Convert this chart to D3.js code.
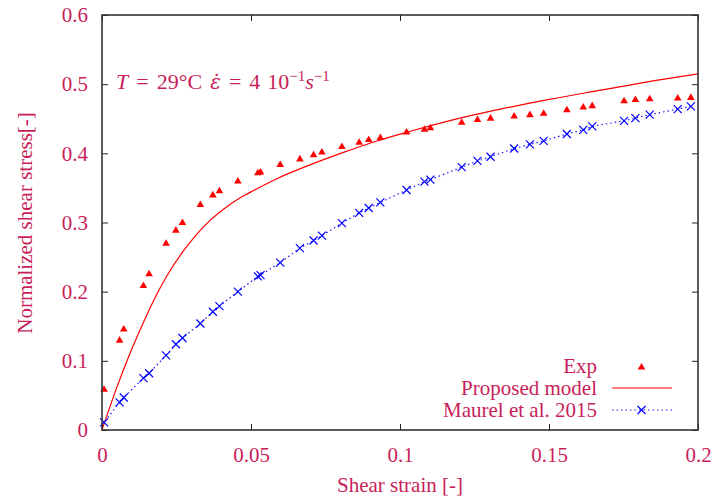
<!DOCTYPE html>
<html>
<head>
<meta charset="utf-8">
<script src="https://cdn.jsdelivr.net/npm/d3@7"></script>
<style>
  body { margin: 0; background: #fff; }
  svg text { font-family: "Liberation Serif", "DejaVu Serif", serif; }
</style>
</head>
<body>
<div id="chart"></div>
<script>
// experimental points (strain, normalized stress)
const expStrain = [0.0007, 0.0059, 0.0073, 0.0139, 0.0158, 0.0215, 0.0248, 0.0270, 0.0330, 0.0372,
  0.0394, 0.0456, 0.0523, 0.0532, 0.0598, 0.0664, 0.0710, 0.0738, 0.0805, 0.0863,
  0.0895, 0.0934, 0.1022, 0.1082, 0.1102, 0.1207, 0.1260, 0.1304, 0.1383, 0.1436,
  0.1482, 0.1560, 0.1615, 0.1645, 0.1752, 0.1790, 0.1838, 0.1932, 0.1976];
const expStress = [0.059, 0.130, 0.146, 0.209, 0.226, 0.270, 0.289, 0.300, 0.326, 0.340,
  0.346, 0.360, 0.372, 0.373, 0.384, 0.392, 0.398, 0.402, 0.410, 0.416,
  0.420, 0.423, 0.431, 0.435, 0.437, 0.445, 0.449, 0.451, 0.454, 0.456,
  0.458, 0.463, 0.467, 0.469, 0.476, 0.478, 0.479, 0.480, 0.481];

// Maurel et al. 2015, same strains as exp
const maurelStress = [0.011, 0.040, 0.047, 0.075, 0.082, 0.108, 0.124, 0.133, 0.154, 0.171,
  0.179, 0.200, 0.222, 0.224, 0.242, 0.263, 0.274, 0.281, 0.299, 0.314,
  0.321, 0.329, 0.347, 0.359, 0.362, 0.380, 0.389, 0.395, 0.407, 0.413,
  0.418, 0.428, 0.434, 0.439, 0.447, 0.451, 0.456, 0.464, 0.468];

// proposed model curve
const modelStrain = [0, 0.005, 0.010, 0.015, 0.0186, 0.0225, 0.0277, 0.032, 0.036, 0.041,
  0.0461, 0.0512, 0.0585, 0.0696, 0.0808, 0.092, 0.1032, 0.1222, 0.1334, 0.1501,
  0.1664, 0.1854, 0.2];
const modelStress = [0, 0.062, 0.117, 0.166, 0.198, 0.228, 0.261, 0.284, 0.302, 0.320,
  0.335, 0.347, 0.363, 0.383, 0.401, 0.4175, 0.4315, 0.453, 0.4636, 0.478,
  0.4906, 0.505, 0.515];

const xTicks = [0, 0.05, 0.1, 0.15, 0.2];
const yTicks = [0, 0.1, 0.2, 0.3, 0.4, 0.5, 0.6];
const legendLabels = ['Exp', 'Proposed model', 'Maurel et al. 2015'];

const W = 715, H = 501;
const margin = {top: 15, right: 17, bottom: 71, left: 102};
const iw = W - margin.left - margin.right;
const ih = H - margin.top - margin.bottom;
const txtColor = '#c81e5a';
const fs = 21;

const svg = d3.select('#chart').append('svg').attr('width', W).attr('height', H);
const g = svg.append('g').attr('transform', 'translate(' + margin.left + ',' + margin.top + ')');

const x = d3.scaleLinear().domain([0, 0.2]).range([0, iw]);
const y = d3.scaleLinear().domain([0, 0.6]).range([ih, 0]);
const fmt = d3.format('~g');

function styleAxis(sel) {
  sel.select('.domain').remove();
  sel.selectAll('line').attr('stroke', '#222').attr('stroke-width', 1);
  sel.selectAll('text').attr('fill', txtColor).style('font-size', fs + 'px');
}

g.append('g').attr('transform', 'translate(0,' + ih + ')')
  .call(d3.axisBottom(x).tickValues(xTicks).tickFormat(fmt).tickSize(-6).tickPadding(17))
  .call(styleAxis);
g.append('g')
  .call(d3.axisTop(x).tickValues(xTicks).tickFormat('').tickSize(-6))
  .call(styleAxis);
g.append('g')
  .call(d3.axisLeft(y).tickValues(yTicks).tickFormat(fmt).tickSize(-6).tickPadding(14))
  .call(styleAxis);
g.append('g').attr('transform', 'translate(' + iw + ',0)')
  .call(d3.axisRight(y).tickValues(yTicks).tickFormat('').tickSize(-6))
  .call(styleAxis);

// model curve
const modelPts = d3.zip(modelStrain, modelStress);
g.append('path')
  .attr('d', d3.line().curve(d3.curveMonotoneX).x(d => x(d[0])).y(d => y(d[1]))(modelPts))
  .attr('fill', 'none').attr('stroke', '#ff0000').attr('stroke-width', 1.2);

// Maurel dotted line + crosses
const maurelPts = d3.zip(expStrain, maurelStress);
g.append('path')
  .attr('d', d3.line().x(d => x(d[0])).y(d => y(d[1]))([[0, 0.008]].concat(maurelPts)))
  .attr('fill', 'none').attr('stroke', '#1a1aff').attr('stroke-width', 1.2)
  .attr('stroke-dasharray', '1.5,3');

function cross(sel, s) {
  sel.append('path')
    .attr('d', `M${-s},${-s}L${s},${s}M${-s},${s}L${s},${-s}`)
    .attr('stroke', '#0000ff').attr('stroke-width', 1.2).attr('fill', 'none');
}
g.selectAll('.mx').data(maurelPts).enter().append('g')
  .attr('class', 'mx')
  .attr('transform', d => 'translate(' + x(d[0]) + ',' + y(d[1]) + ')')
  .call(cross, 4);

// exp triangles
const tri = 'M0,-4L3.8,2.6L-3.8,2.6Z';
g.selectAll('.tri').data(d3.zip(expStrain, expStress)).enter().append('path')
  .attr('class', 'tri')
  .attr('d', tri)
  .attr('transform', d => 'translate(' + x(d[0]) + ',' + y(d[1]) + ')')
  .attr('fill', '#ff0000');

// frame
g.append('rect').attr('width', iw).attr('height', ih)
  .attr('fill', 'none').attr('stroke', '#333').attr('stroke-width', 1.6);

// annotation
const ann = svg.append('text').attr('x', 116).attr('y', 89)
  .attr('fill', txtColor).style('font-size', '22px');
ann.append('tspan').attr('font-style', 'italic').text('T');
ann.append('tspan').attr('dx', 8).text('=');
ann.append('tspan').attr('dx', 8).text('29°C');
ann.append('tspan').attr('dx', 8).attr('font-style', 'italic').style('font-family', 'DejaVu Serif')
  .style('font-size', '20px').text('ε̇');
ann.append('tspan').attr('dx', 8).text('=');
ann.append('tspan').attr('dx', 8).text('4');
ann.append('tspan').attr('dx', 7).text('10');
ann.append('tspan').attr('dy', -8).style('font-size', '15px').text('−1');
ann.append('tspan').attr('dy', 8).attr('font-style', 'italic').text('s');
ann.append('tspan').attr('dy', -8).style('font-size', '15px').text('−1');

// legend
const legY = [366, 388, 410];
const leg = svg.append('g');
leg.selectAll('text').data(legendLabels).enter().append('text')
  .attr('x', 597).attr('y', (d, i) => legY[i]).attr('dy', '0.33em')
  .attr('text-anchor', 'end').attr('fill', txtColor).style('font-size', fs + 'px')
  .text(d => d);
leg.append('path').attr('d', tri)
  .attr('transform', 'translate(641.5,' + (legY[0] + 1) + ')').attr('fill', '#ff0000');
leg.append('line').attr('x1', 612).attr('x2', 672).attr('y1', legY[1]).attr('y2', legY[1])
  .attr('stroke', '#ff0000').attr('stroke-width', 1.2);
leg.append('line').attr('x1', 612).attr('x2', 672).attr('y1', legY[2]).attr('y2', legY[2])
  .attr('stroke', '#1a1aff').attr('stroke-width', 1.2).attr('stroke-dasharray', '1.5,3');
leg.append('g').attr('transform', 'translate(641.5,' + legY[2] + ')').call(cross, 4);

// axis titles
svg.append('text').attr('x', 400).attr('y', 492).attr('text-anchor', 'middle')
  .attr('fill', txtColor).style('font-size', fs + 'px').text('Shear strain [-]');
svg.append('text').attr('transform', 'translate(32,223) rotate(-90)').attr('text-anchor', 'middle')
  .attr('fill', txtColor).style('font-size', fs + 'px').text('Normalized shear stress[-]');
</script>
</body>
</html>
